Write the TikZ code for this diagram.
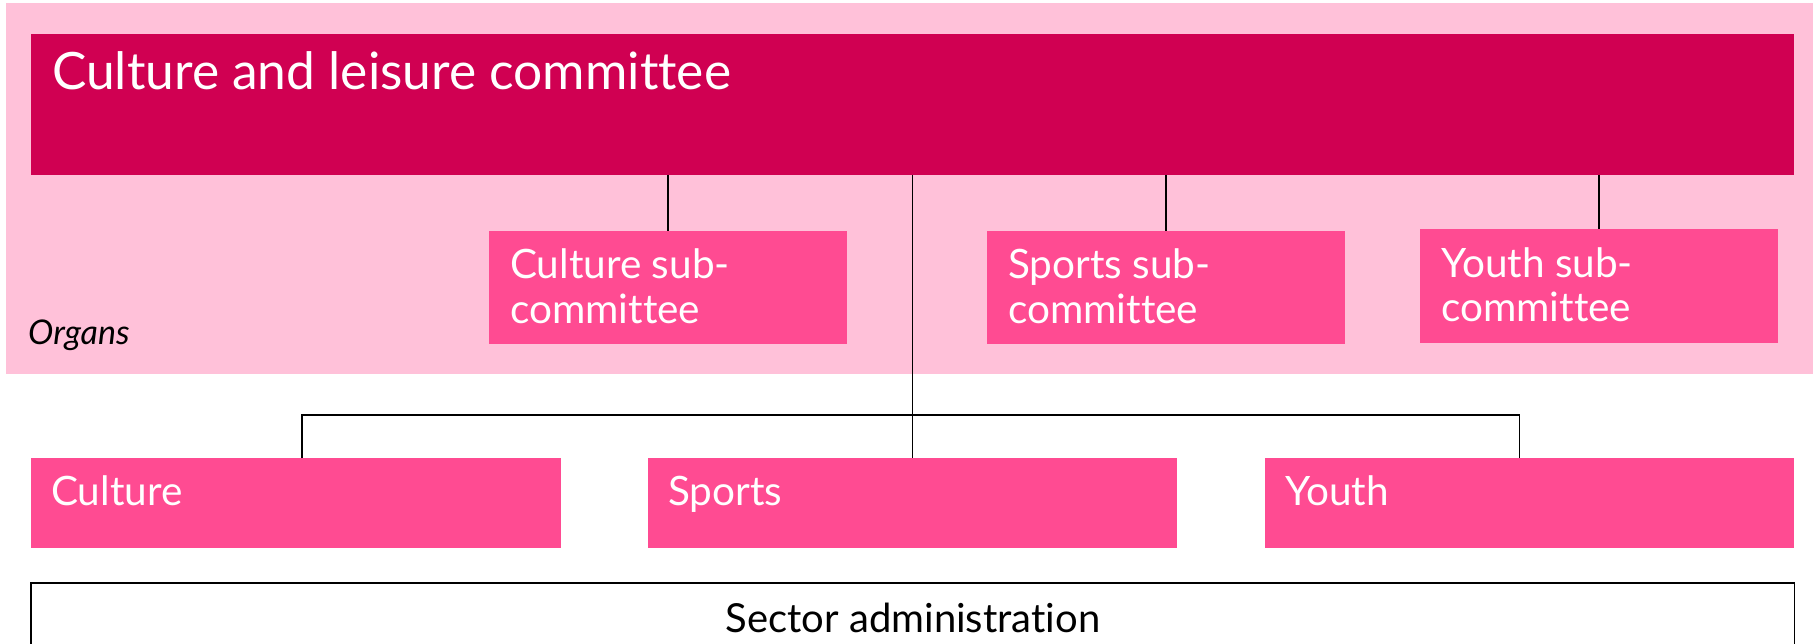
\documentclass[tikz,border=0pt]{standalone}
\usepackage{fontspec}
\setmainfont{Lato}[Ligatures=NoCommon]
\usetikzlibrary{calc}
\definecolor{bgpink}{RGB}{255,193,217}
\definecolor{darkpink}{RGB}{208,0,82}
\definecolor{midpink}{RGB}{255,75,146}
\tikzset{
  box/.style={anchor=north west,inner sep=0pt,outer sep=0pt,fill=#1,draw=none},
  boxtext/.style={anchor=base west,inner sep=0pt,text=white,align=left,font=\fontsize{40.5}{44}\selectfont},
  conn/.style={draw=black,line width=1.3pt},
}
\begin{document}
\begin{tikzpicture}[x=1pt,y=-1pt]
\useasboundingbox (0,0) rectangle (1817,644);
% organs background
\node[box=bgpink,minimum width=1807pt,minimum height=371pt] (organs) at (6,3) {};
\node[anchor=base west,inner sep=0pt,font=\fontsize{34}{36}\selectfont\itshape] (organslbl) at (28,344) {Organs};
% main committee
\node[box=darkpink,minimum width=1763pt,minimum height=141pt] (main) at (31,34) {};
\node[anchor=base west,inner sep=0pt,text=white,font=\fontsize{51.5}{56}\selectfont] (maintxt) at (52,90) {Culture and leisure committee};
% sub-committees
\node[box=midpink,minimum width=358pt,minimum height=113pt] (csub) at (489,231) {};
\node[box=midpink,minimum width=358pt,minimum height=113pt] (ssub) at (987,231) {};
\node[box=midpink,minimum width=358pt,minimum height=114pt] (ysub) at (1420,229) {};
\node[boxtext] (csubtxt) at ($(csub.north west)+(21,92)$) {Culture sub-\\committee};
\node[boxtext] (ssubtxt) at ($(ssub.north west)+(21,92)$) {Sports sub-\\committee};
\node[boxtext] (ysubtxt) at ($(ysub.north west)+(21,92)$) {Youth sub-\\committee};
% sectors
\node[box=midpink,minimum width=530pt,minimum height=90pt] (cult) at (31,458) {};
\node[box=midpink,minimum width=529pt,minimum height=90pt] (sport) at (648,458) {};
\node[box=midpink,minimum width=529pt,minimum height=90pt] (youth) at (1265,458) {};
\node[boxtext] (culttxt) at ($(cult.north west)+(20,47)$) {Culture};
\node[boxtext] (sporttxt) at ($(sport.north west)+(20,47)$) {Sports};
\node[boxtext] (youthtxt) at ($(youth.north west)+(20,47)$) {Youth};
% sector administration
\node[anchor=north west,inner sep=0pt,minimum width=1763pt,minimum height=90pt] (admin) at (31,583) {};
\draw[line width=1.5pt] (admin.south west) -- (admin.north west) -- (admin.north east) -- (admin.south east);
\node[anchor=base,inner sep=0pt,font=\fontsize{40}{44}\selectfont] (admintxt) at (913,632) {Sector administration};
% connectors
\draw[conn] (main.south -| csub.north) -- (csub.north);
\draw[conn] (main.south -| ssub.north) -- (ssub.north);
\draw[conn] (main.south -| ysub.north) -- (ysub.north);
\draw[conn] (main.south -| sport.north) -- (sport.north);
\draw[conn] ($(cult.north)+(6,0)$) -- ++(0,-43) -| ($(youth.north)+(-10,0)$);
\end{tikzpicture}
\end{document}
